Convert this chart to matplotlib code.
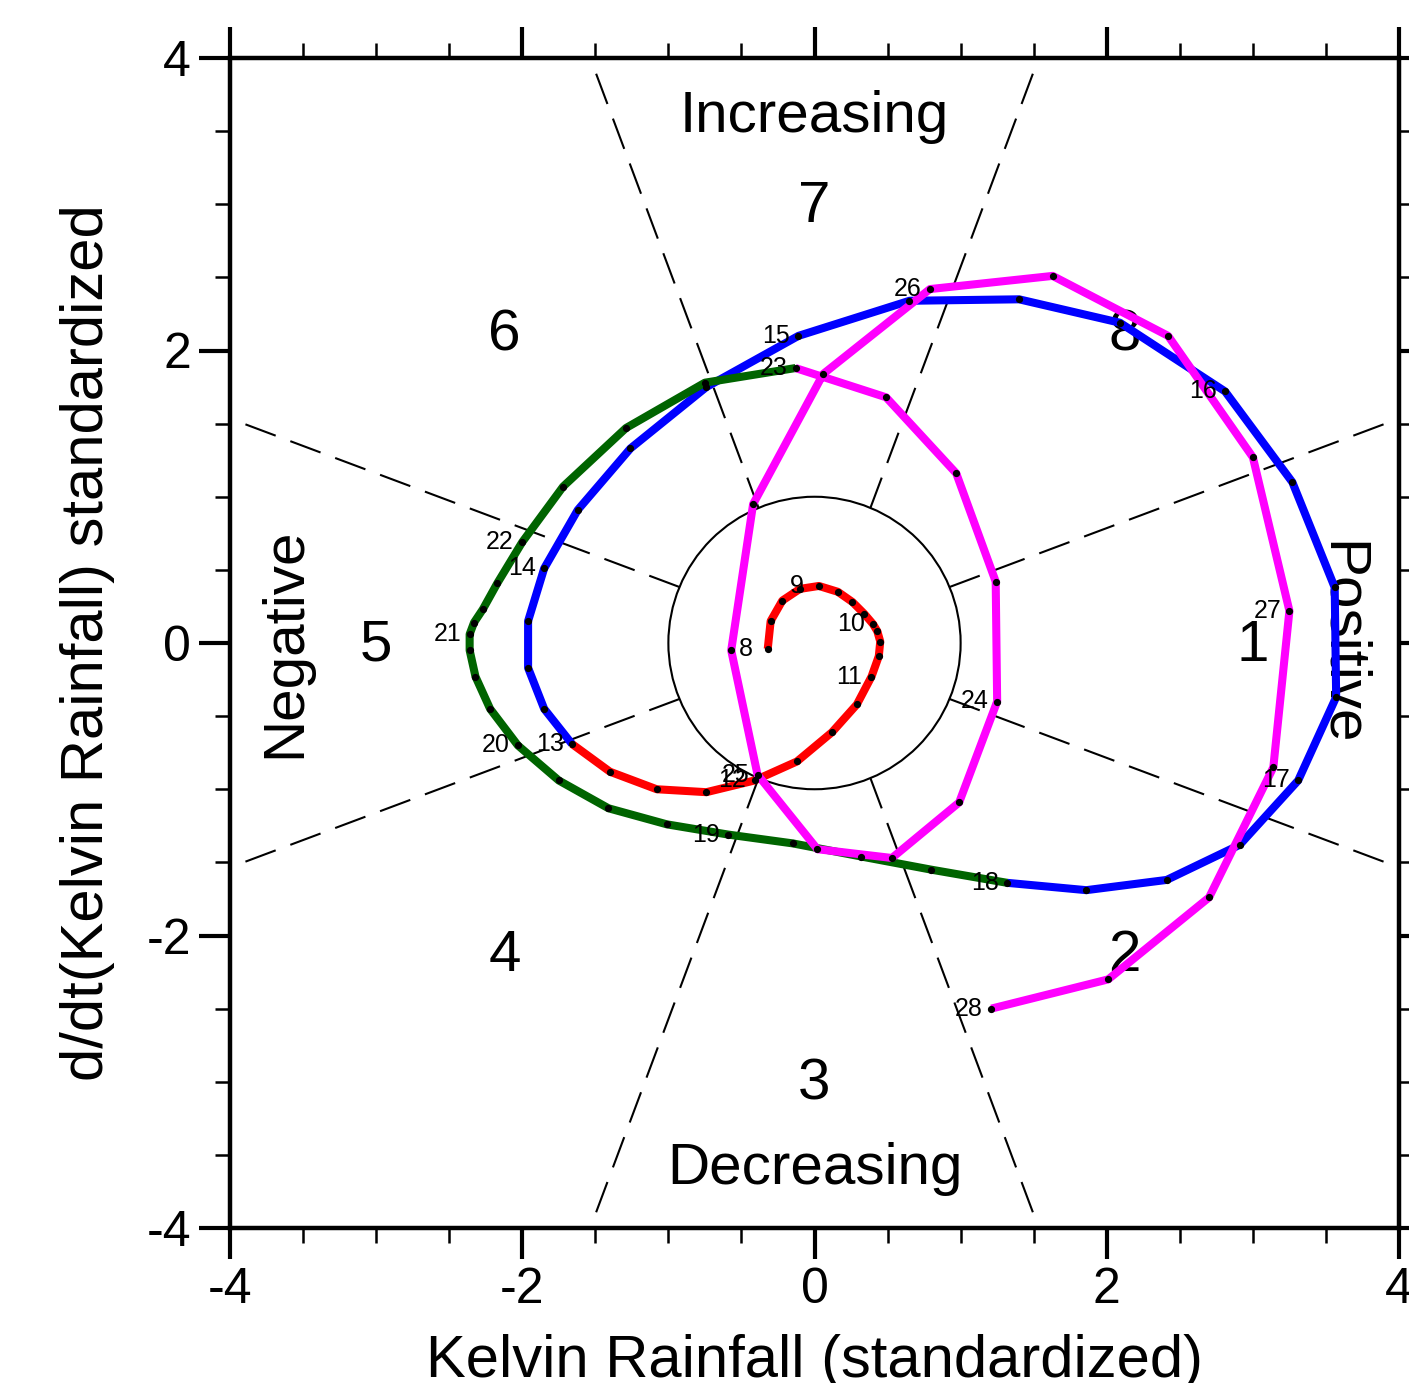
import matplotlib
matplotlib.use("Agg")
import matplotlib.pyplot as plt
import numpy as np

plt.rcParams['font.family'] = ['Liberation Sans', 'DejaVu Sans']
plt.rcParams['axes.unicode_minus'] = False

# 6-hourly points, day 8 to day 28 (4 points per day)
rain = [-0.32, -0.30, -0.22, -0.10, 0.03, 0.16, 0.26, 0.34, 0.40, 0.43,
        0.45, 0.44, 0.39, 0.29, 0.12, -0.12, -0.41, -0.74, -1.08, -1.40,
        -1.66, -1.85, -1.96, -1.96, -1.85, -1.62, -1.26, -0.74, -0.11, 0.65,
        1.40, 2.09, 2.81, 3.27, 3.56, 3.57, 3.31, 2.91, 2.41, 1.86,
        1.32, 0.80, 0.32, -0.15, -0.59, -1.01, -1.41, -1.75, -2.03, -2.22,
        -2.32, -2.36, -2.36, -2.33, -2.27, -2.17, -2.00, -1.72, -1.29, -0.75,
        -0.13, 0.49, 0.97, 1.24, 1.25, 0.99, 0.53, 0.02, -0.39, -0.57,
        -0.42, 0.06, 0.79, 1.63, 2.42, 3.00, 3.25, 3.14, 2.70, 2.01,
        1.21]
drain = [-0.04, 0.15, 0.29, 0.37, 0.39, 0.35, 0.28, 0.20, 0.13, 0.08,
         0.01, -0.09, -0.23, -0.42, -0.61, -0.81, -0.94, -1.02, -1.00, -0.88,
         -0.69, -0.45, -0.17, 0.15, 0.51, 0.91, 1.33, 1.75, 2.10, 2.34,
         2.35, 2.19, 1.72, 1.10, 0.38, -0.37, -0.94, -1.38, -1.62, -1.69,
         -1.64, -1.55, -1.46, -1.37, -1.31, -1.24, -1.13, -0.94, -0.70, -0.45,
         -0.23, -0.05, 0.06, 0.14, 0.23, 0.41, 0.69, 1.07, 1.47, 1.78,
         1.88, 1.68, 1.16, 0.42, -0.40, -1.09, -1.47, -1.41, -0.90, -0.05,
         0.95, 1.84, 2.42, 2.51, 2.10, 1.27, 0.22, -0.85, -1.74, -2.30,
         -2.50]
label_days = list(range(8, 29))
pts_per_day = 4
seg_colors = ['red', 'blue', 'darkgreen', 'magenta']
seg_days = 5

# phase boundaries and labels
inner_ang = [22.5, 67.5, 112.5, 157.5, 202.5, 247.5, 292.5, 337.5]
outer_ang = [21.0, 69.0, 111.0, 159.0, 201.0, 249.0, 291.0, 339.0]
outer_r = 4.2
phase_names = ['1', '2', '3', '4', '5', '6', '7', '8']
phase_ang = [0, -45, -90, -135, 180, 135, 90, 45]
phase_r = 3.0

x = np.array(rain)
y = np.array(drain)

fig = plt.figure(figsize=(14.09, 13.83), dpi=100)
ax = fig.add_axes([230 / 1409, 1 - 1228 / 1383, 1169 / 1409, 1170 / 1383])

# dashed phase lines
for a0, a1 in zip(inner_ang, outer_ang):
    r0, r1 = np.deg2rad(a0), np.deg2rad(a1)
    ax.plot([np.cos(r0), outer_r * np.cos(r1)], [np.sin(r0), outer_r * np.sin(r1)],
            color='black', lw=1.5, linestyle=(0, (15.5, 7.5)), zorder=1)
ax.add_patch(plt.Circle((0, 0), 1.0, fill=False, color='black', lw=1.5, zorder=1))

for name, a in zip(phase_names, phase_ang):
    ra = np.deg2rad(a)
    ax.text(phase_r * np.cos(ra), phase_r * np.sin(ra) - 0.02, name, fontsize=42,
            ha='center', va='center', zorder=2)

ax.text(0, 3.6, 'Increasing', fontsize=42, ha='center', va='center')
ax.text(0, -3.6, 'Decreasing', fontsize=42, ha='center', va='center')
ax.text(-3.62, 0, 'Negative', fontsize=42, ha='center', va='center', rotation=90)
ax.text(3.6, 0, 'Positive', fontsize=42, ha='center', va='center', rotation=-90)

# trajectory, one colour per 5 days
n = seg_days * pts_per_day
for k, c in enumerate(seg_colors):
    s = slice(k * n, (k + 1) * n + 1)
    ax.plot(x[s], y[s], color=c, lw=5.8, zorder=3 + k * 0.1, solid_capstyle='butt')
ax.plot(x, y, 'o', color='black', ms=4.2, zorder=4)

for i, d in enumerate(label_days):
    j = i * pts_per_day
    ax.annotate(str(d), (x[j], y[j]), xytext=(-16, 0), textcoords='offset points',
                fontsize=18, ha='center', va='center', zorder=5)

ax.set_xlim(-4, 4)
ax.set_ylim(-4, 4)
ticks = [-4, -2, 0, 2, 4]
ax.set_xticks(ticks)
ax.set_yticks(ticks)
ax.set_xticklabels([str(t) for t in ticks])
ax.set_yticklabels([str(t) for t in ticks])
ax.set_xticks(np.arange(-4, 4.01, 0.5), minor=True)
ax.set_yticks(np.arange(-4, 4.01, 0.5), minor=True)
ax.tick_params(which='major', direction='out', length=22, width=3, labelsize=36,
               top=True, right=True, pad=6)
ax.tick_params(which='minor', direction='out', length=11, width=1.8,
               top=True, right=True)
for sp in ax.spines.values():
    sp.set_linewidth(3.2)

ax.set_xlabel('Kelvin Rainfall (standardized)', fontsize=43, va='center')
ax.xaxis.set_label_coords(0.5, -0.1137)
ax.set_ylabel('d/dt(Kelvin Rainfall) standardized', fontsize=43, va='center')
ax.yaxis.set_label_coords(-0.122, 0.5)

fig.savefig('out.png', dpi=100)
